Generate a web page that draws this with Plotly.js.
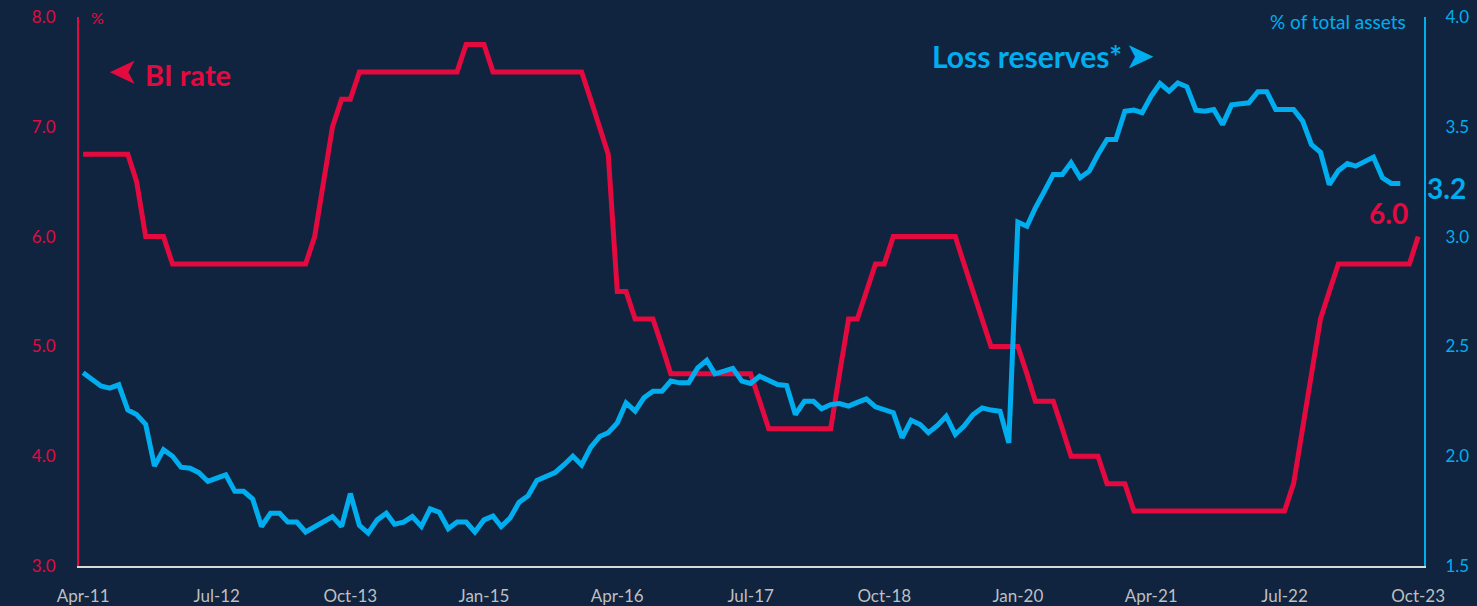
<!DOCTYPE html>
<html>
<head>
<meta charset="utf-8">
<script src="https://cdn.plot.ly/plotly-3.0.1.min.js"></script>
<style>
html,body{margin:0;padding:0;background:#10243f;}
#chart{width:1477px;height:606px;}
</style>
</head>
<body>
<div id="chart"></div>
<script>
// First month of the monthly series
const startYear = 2011;
const startMonthIndex = 3; // April (0-based)

// BI rate, % (end of month), Apr-2011 .. Oct-2023
const biRate = [
  6.75, 6.75, 6.75, 6.75, 6.75, 6.75, 6.50, 6.00, 6.00, 6.00,
  5.75, 5.75, 5.75, 5.75, 5.75, 5.75, 5.75, 5.75, 5.75, 5.75,
  5.75, 5.75, 5.75, 5.75, 5.75, 5.75, 6.00, 6.50, 7.00, 7.25,
  7.25, 7.50, 7.50, 7.50, 7.50, 7.50, 7.50, 7.50, 7.50, 7.50,
  7.50, 7.50, 7.50, 7.75, 7.75, 7.75, 7.50, 7.50, 7.50, 7.50,
  7.50, 7.50, 7.50, 7.50, 7.50, 7.50, 7.50, 7.25, 7.00, 6.75,
  5.50, 5.50, 5.25, 5.25, 5.25, 5.00, 4.75, 4.75, 4.75, 4.75,
  4.75, 4.75, 4.75, 4.75, 4.75, 4.75, 4.50, 4.25, 4.25, 4.25,
  4.25, 4.25, 4.25, 4.25, 4.25, 4.75, 5.25, 5.25, 5.50, 5.75,
  5.75, 6.00, 6.00, 6.00, 6.00, 6.00, 6.00, 6.00, 6.00, 5.75,
  5.50, 5.25, 5.00, 5.00, 5.00, 5.00, 4.75, 4.50, 4.50, 4.50,
  4.25, 4.00, 4.00, 4.00, 4.00, 3.75, 3.75, 3.75, 3.50, 3.50,
  3.50, 3.50, 3.50, 3.50, 3.50, 3.50, 3.50, 3.50, 3.50, 3.50,
  3.50, 3.50, 3.50, 3.50, 3.50, 3.50, 3.75, 4.25, 4.75, 5.25,
  5.50, 5.75, 5.75, 5.75, 5.75, 5.75, 5.75, 5.75, 5.75, 5.75,
  6.00
];

// Loss reserves, % of total assets, Apr-2011 .. Aug-2023
const lossReserves = [
  2.38, 2.35, 2.32, 2.31, 2.325, 2.21, 2.19, 2.145, 1.955, 2.03,
  2.00, 1.95, 1.945, 1.925, 1.885, 1.90, 1.915, 1.84, 1.84, 1.805,
  1.68, 1.74, 1.74, 1.70, 1.70, 1.655, 1.68, 1.70, 1.725, 1.68,
  1.83, 1.685, 1.65, 1.71, 1.74, 1.69, 1.70, 1.725, 1.68, 1.76,
  1.745, 1.67, 1.70, 1.70, 1.655, 1.71, 1.727, 1.68, 1.72, 1.79,
  1.82, 1.89, 1.91, 1.925, 1.96, 2.00, 1.96, 2.04, 2.09, 2.107,
  2.152, 2.243, 2.205, 2.266, 2.296, 2.296, 2.342, 2.334, 2.334, 2.402,
  2.437, 2.375, 2.387, 2.40, 2.342, 2.331, 2.364, 2.346, 2.326, 2.322,
  2.19, 2.25, 2.25, 2.216, 2.235, 2.24, 2.228, 2.245, 2.261, 2.225,
  2.21, 2.198, 2.084, 2.164, 2.144, 2.107, 2.14, 2.182, 2.099, 2.137,
  2.19, 2.22, 2.21, 2.205, 2.061, 3.066, 3.047, 3.131, 3.207, 3.283,
  3.283, 3.336, 3.268, 3.298, 3.374, 3.442, 3.442, 3.571, 3.576, 3.564,
  3.64, 3.697, 3.662, 3.70, 3.682, 3.576, 3.571, 3.579, 3.51, 3.60,
  3.605, 3.609, 3.66, 3.66, 3.579, 3.579, 3.579, 3.526, 3.419, 3.384,
  3.237, 3.30, 3.333, 3.321, 3.339, 3.362, 3.268, 3.242, 3.242
];

const tickDates = ["2011-04-01","2012-07-01","2013-10-01","2015-01-01","2016-04-01","2017-07-01","2018-10-01","2020-01-01","2021-04-01","2022-07-01","2023-10-01"];
const tickLabels = ["Apr-11","Jul-12","Oct-13","Jan-15","Apr-16","Jul-17","Oct-18","Jan-20","Apr-21","Jul-22","Oct-23"];

function monthDates(n){
  const out = [];
  for(let i=0;i<n;i++){
    const t = startMonthIndex + i;
    const y = startYear + Math.floor(t/12);
    const m = (t%12)+1;
    out.push(y + "-" + (m<10?"0":"") + m + "-01");
  }
  return out;
}

const RED = "#e4093f";
const BLUE = "#00aeef";
const BG = "#10243f";
const FONT = "Lato, 'Open Sans', sans-serif";

const traces = [
  {x: monthDates(biRate.length), y: biRate, type:"scatter", mode:"lines",
   line:{color:RED, width:5}, yaxis:"y", hoverinfo:"skip"},
  {x: monthDates(lossReserves.length), y: lossReserves, type:"scatter", mode:"lines",
   line:{color:BLUE, width:5}, yaxis:"y2", hoverinfo:"skip"}
];

const layout = {
  width:1477, height:606,
  paper_bgcolor:BG, plot_bgcolor:BG,
  margin:{l:79, r:53, t:17, b:40},
  showlegend:false,
  font:{family:FONT},
  xaxis:{
    type:"date", range:["2011-03-18","2023-10-21"],
    tickmode:"array", tickvals:tickDates, ticktext:tickLabels,
    showgrid:false, zeroline:false, showline:true, linecolor:"#d9d9d9", linewidth:2,
    ticks:"", tickfont:{size:17, color:"#bfbfbf", family:FONT}, ticklabelstandoff:14
  },
  yaxis:{
    range:[3,8], tick0:3, dtick:1, tickformat:".1f",
    showgrid:false, zeroline:false, showline:true, linecolor:RED, linewidth:2,
    ticks:"", tickfont:{size:17, color:RED, family:FONT}, ticklabelstandoff:18
  },
  yaxis2:{
    range:[1.5,4], tick0:1.5, dtick:0.5, tickformat:".1f",
    overlaying:"y", side:"right",
    showgrid:false, zeroline:false, showline:true, linecolor:BLUE, linewidth:2,
    ticks:"", tickfont:{size:17, color:BLUE, family:FONT}, ticklabelstandoff:16
  },
  annotations:[
    {xref:"paper", yref:"paper", x:0.0141, y:1.0, xanchor:"center", yanchor:"middle",
     text:"%", showarrow:false, font:{size:16, color:RED, family:FONT}},
    {xref:"paper", yref:"paper", x:0.988, y:0.9927, xanchor:"right", yanchor:"middle",
     text:"% of total assets", showarrow:false, font:{size:19, color:BLUE, family:FONT}},
    {xref:"paper", yref:"paper", x:0.0327, y:0.896, xanchor:"center", yanchor:"middle",
     text:"➤", textangle:180, showarrow:false, font:{size:36, color:RED, family:"DejaVu Sans"}},
    {xref:"paper", yref:"paper", x:0.0476, y:0.896, xanchor:"left", yanchor:"middle",
     text:"<b>BI rate</b>", showarrow:false, font:{size:29, color:RED, family:FONT}},
    {xref:"paper", yref:"paper", x:0.6327, y:0.929, xanchor:"left", yanchor:"middle",
     text:"<b>Loss reserves*</b>", showarrow:false, font:{size:30, color:BLUE, family:FONT}},
    {xref:"paper", yref:"paper", x:0.7888, y:0.929, xanchor:"center", yanchor:"middle",
     text:"➤", showarrow:false, font:{size:36, color:BLUE, family:"DejaVu Sans"}},
    {xref:"paper", yref:"paper", x:1.0007, y:0.6885, xanchor:"left", yanchor:"middle",
     text:"<b>" + lossReserves[lossReserves.length-1].toFixed(1) + "</b>", showarrow:false,
     font:{size:28, color:BLUE, family:FONT}},
    {xref:"paper", yref:"paper", x:0.9896, y:0.643, xanchor:"right", yanchor:"middle",
     text:"<b>" + biRate[biRate.length-1].toFixed(1) + "</b>", showarrow:false,
     font:{size:28, color:RED, family:FONT}}
  ]
};

Plotly.newPlot("chart", traces, layout, {displayModeBar:false, staticPlot:true});
</script>
</body>
</html>
